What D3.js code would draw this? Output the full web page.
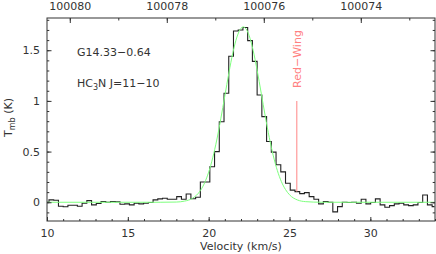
<!DOCTYPE html>
<html lang="en">
<head>
<meta charset="UTF-8">
<title>HC3N J=11-10 spectrum</title>
<script src="https://d3js.org/d3.v7.min.js"></script>
<style>
  body { margin: 0; background: #fff; }
  svg text { font-family: "DejaVu Sans", sans-serif; font-size: 11px; fill: #333; }
</style>
</head>
<body>
<div id="chart"></div>
<script>
// spectrum channels: start velocity + channel width (km/s), one Tmb per channel
var vStart = 9.977;
var channelWidth = 0.2926;
var tmb = [0.0, 0.023, 0.02, -0.04, -0.045, -0.03, -0.03, -0.04, -0.01, 0.016,
  -0.026, -0.012, 0.007, 0.0, 0.007, 0.005, -0.02, -0.016, -0.026, -0.01,
  -0.016, -0.01, -0.003, 0.023, 0.033, 0.039, 0.03, 0.03, 0.056, 0.03,
  0.082, 0.035, 0.05, 0.20, 0.20, 0.35, 0.50, 0.795, 1.075, 1.44,
  1.69, 1.70, 1.725, 1.595, 1.39, 1.058, 0.845, 0.60, 0.495, 0.37,
  0.30, 0.187, 0.12, 0.105, 0.085, 0.095, 0.056, 0.03, -0.016, 0.007,
  0.0, -0.095, -0.043, 0.0, -0.003, 0.0, -0.01, 0.03, -0.016, -0.003,
  0.033, -0.026, -0.05, -0.033, -0.016, -0.01, -0.026, -0.033, -0.026, -0.003,
  0.072, -0.026, -0.043];

// gaussian fit
var fitV = [10, 17, 18, 18.5, 19, 19.5, 19.75, 20, 20.25, 20.5, 20.75, 21, 21.25, 21.5, 21.75,
  22, 22.14, 22.25, 22.5, 22.75, 23, 23.25, 23.5, 23.75, 24, 24.25, 24.5, 24.75, 25, 25.5, 26, 27, 34];
var fitT = [0, 0, 0.002, 0.011, 0.039, 0.118, 0.192, 0.297, 0.438, 0.614, 0.823, 1.049, 1.275, 1.478, 1.631,
  1.717, 1.73, 1.722, 1.646, 1.499, 1.301, 1.077, 0.849, 0.638, 0.457, 0.312, 0.203, 0.126, 0.074, 0.022, 0.006, 0, 0];

// red wing marker
var wingV = 25.45, wingTop = 1.0, wingBottom = 0.105;

// axes
var xTicks = [10, 15, 20, 25, 30];
var yTicks = [0, 0.5, 1, 1.5];
var yTickLabels = ["0", "0.5", "1", "1.5"];
var freqTicks = [100080, 100078, 100076, 100074];
var freqDomain = [100080.47, 100072.47];

var W = 436, H = 254;
var L = 47, R = 435, T = 18, B = 221;

var svg = d3.select("#chart").append("svg").attr("width", W).attr("height", H);

var x = d3.scaleLinear().domain([10, 34]).range([L, R]);
var y = d3.scaleLinear().domain([-0.185, 1.818]).range([B, T]);
var xf = d3.scaleLinear().domain(freqDomain).range([L, R]);

svg.append("clipPath").attr("id", "clip")
  .append("rect").attr("x", L).attr("y", T).attr("width", R - L).attr("height", B - T);

var plot = svg.append("g").attr("clip-path", "url(#clip)");

var spec = tmb.map(function(t, i){ return {v: vStart + channelWidth * i, t: t}; });
var fit = fitV.map(function(v, i){ return {v: v, t: fitT[i]}; });

plot.append("path").datum(spec)
  .attr("fill", "none").attr("stroke", "#222").attr("stroke-width", 1.1)
  .attr("d", d3.line().x(function(d){ return x(d.v); }).y(function(d){ return y(d.t); }).curve(d3.curveStep));

plot.append("path").datum(fit)
  .attr("fill", "none").attr("stroke", "#7dff7d").attr("stroke-width", 1)
  .attr("d", d3.line().x(function(d){ return x(d.v); }).y(function(d){ return y(d.t); }).curve(d3.curveMonotoneX));

// red wing line + label
plot.append("line")
  .attr("x1", x(wingV)).attr("x2", x(wingV))
  .attr("y1", y(wingTop)).attr("y2", y(wingBottom))
  .attr("stroke", "#ff9a9a").attr("stroke-width", 1.2);

svg.append("text")
  .attr("transform", "translate(" + (x(wingV) + 4) + "," + (y(wingTop) - 13) + ") rotate(-90)")
  .style("fill", "#ff8080")
  .text("Red\u2212Wing");

// frame
svg.append("rect").attr("x", L).attr("y", T).attr("width", R - L).attr("height", B - T)
  .attr("fill", "none").attr("stroke", "#333").attr("stroke-width", 1);

function styleAxis(g){
  g.select(".domain").remove();
  g.selectAll("line").attr("stroke", "#333");
  g.selectAll("text").attr("font-family", null).attr("font-size", null).style("fill", "#333");
}

var minorX = d3.range(10, 34.01, 1);
var minorY = d3.range(-0.1, 1.81, 0.1);
var minorF = d3.range(100073, 100081, 1);

// bottom
svg.append("g").attr("transform", "translate(0," + B + ")")
  .call(d3.axisBottom(x).tickValues(minorX).tickSize(-2).tickFormat("")).call(styleAxis);
svg.append("g").attr("transform", "translate(0," + B + ")")
  .call(d3.axisBottom(x).tickValues(xTicks).tickSize(-4).tickPadding(8.5).tickFormat(d3.format("d"))).call(styleAxis);

// top (frequency, MHz)
svg.append("g").attr("transform", "translate(0," + T + ")")
  .call(d3.axisTop(xf).tickValues(minorF).tickSize(-2.5).tickFormat("")).call(styleAxis);
svg.append("g").attr("transform", "translate(0," + T + ")")
  .call(d3.axisTop(xf).tickValues(freqTicks).tickSize(-5).tickPadding(8.5).tickFormat(d3.format("d"))).call(styleAxis);

// left
svg.append("g").attr("transform", "translate(" + L + ",0)")
  .call(d3.axisLeft(y).tickValues(minorY).tickSize(-2.3).tickFormat("")).call(styleAxis);
svg.append("g").attr("transform", "translate(" + L + ",0)")
  .call(d3.axisLeft(y).tickValues(yTicks).tickSize(-4.5).tickPadding(7)
    .tickFormat(function(d, i){ return yTickLabels[i]; })).call(styleAxis);

// right
svg.append("g").attr("transform", "translate(" + R + ",0)")
  .call(d3.axisRight(y).tickValues(minorY).tickSize(-2.3).tickFormat("")).call(styleAxis);
svg.append("g").attr("transform", "translate(" + R + ",0)")
  .call(d3.axisRight(y).tickValues(yTicks).tickSize(-4.5).tickFormat("")).call(styleAxis);

// axis titles
svg.append("text").attr("x", (L + R) / 2).attr("y", 250).attr("text-anchor", "middle")
  .text("Velocity (km/s)");

var yl = svg.append("text").attr("transform", "translate(12," + ((T + B) / 2 - 2) + ") rotate(-90)")
  .attr("text-anchor", "middle");
yl.append("tspan").text("T");
yl.append("tspan").attr("dy", 3).style("font-size", "8px").text("mb");
yl.append("tspan").attr("dy", -3).text(" (K)");

// source / line labels
svg.append("text").attr("x", 77).attr("y", 56).text("G14.33\u22120.64");

var ln = svg.append("text").attr("x", 77).attr("y", 87);
ln.append("tspan").text("HC");
ln.append("tspan").attr("dy", 3).style("font-size", "8px").text("3");
ln.append("tspan").attr("dy", -3).text("N J=11\u221210");
</script>
</body>
</html>
